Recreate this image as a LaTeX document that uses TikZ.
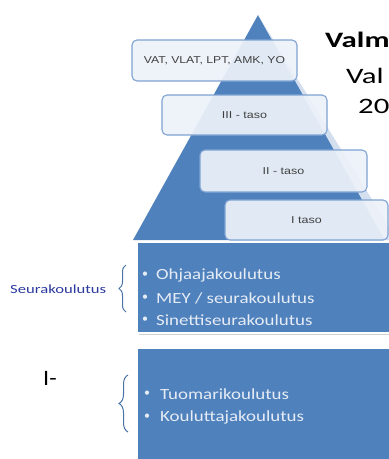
\documentclass[tikz,border=0pt]{standalone}
\usepackage{fontspec}
\setmainfont{Carlito}
\newfontfamily\boxfont{Liberation Sans}
\usetikzlibrary{decorations.pathreplacing}
\definecolor{pblue}{HTML}{4F81BD}
\definecolor{plight}{HTML}{D3DEEE}
\definecolor{boxfill}{HTML}{EDF2F9}
\definecolor{boxline}{HTML}{7FA3D3}
\definecolor{listtext}{HTML}{E6ECF5}
\definecolor{sidetext}{HTML}{2B3A9E}
\definecolor{bracec}{HTML}{4A74A8}
\newcommand{\wide}[2]{\scalebox{#1}[1]{#2}}
\tikzset{
  tbox/.style={draw=boxline, line width=1.1pt, fill=boxfill, fill opacity=0.93, text opacity=1,
    rounded corners=5pt, inner sep=0pt, font=\boxfont\fontsize{10}{12}\selectfont, text=black!75},
  bluerect/.style={fill=pblue, draw=white, line width=1.5pt},
  shadowrect/.style={fill=black!18},
  item/.style={anchor=west, inner sep=0pt, text=listtext, font=\fontsize{15.5}{18}\selectfont},
  bul/.style={inner sep=0pt, text=listtext, font=\fontsize{12}{14}\selectfont},
  bigtext/.style={anchor=base west, inner sep=0pt, text=black, font=\fontsize{22}{26}\selectfont},
  bracepath/.style={draw=bracec, line width=1pt, decorate, decoration={brace, amplitude=7pt}}
}
\begin{document}
\begin{tikzpicture}[x=1pt,y=-1pt]
\useasboundingbox (0,0) rectangle (389,459);
\clip (0,0) rectangle (389,459);
\fill[white] (0,0) rectangle (389,459);

% pyramid
\fill[pblue] (258,15) -- (133,240) -- (385,240) -- cycle;
\fill[plight] (258,15) -- (385,240) -- (397,240) -- cycle;

% level boxes
\node[tbox, minimum width=165pt, minimum height=41pt] (b1) at (214.5,60.5) {\wide{1.22}{VAT, VLAT, LPT, AMK, YO}};
\node[tbox, minimum width=165pt, minimum height=40pt] (b2) at (244.5,115) {\wide{1.25}{III - taso}};
\node[tbox, minimum width=167pt, minimum height=42pt] (b3) at (283.5,171) {\wide{1.25}{II - taso}};
\node[tbox, minimum width=163pt, minimum height=40pt] (b4) at (306.5,220) {\wide{1.25}{I taso}};

% right title text (cut off)
\node[bigtext, font=\bfseries\fontsize{22}{26}\selectfont] (t1) at (325,47) {\wide{1.4}{Valm}};
\node[bigtext] (t2) at (346,83) {\wide{1.4}{Val}};
\node[bigtext] (t3) at (358,113) {\wide{1.4}{20}};

% blue rectangles
\fill[shadowrect] (138.5,243.5) rectangle (393,335);
\draw[bluerect] (137,242) rectangle (393,333);
\fill[shadowrect] (138.5,349.5) rectangle (393,462);
\draw[bluerect] (137,348) rectangle (393,462);

% first list
\node[bul] (u1) at (145,275) {•};
\node[item] (i1) at (156,275) {\wide{1.22}{Ohjaajakoulutus}};
\node[bul] (u2) at (145,298) {•};
\node[item] (i2) at (156,298) {\wide{1.22}{MEY / seurakoulutus}};
\node[bul] (u3) at (145,320) {•};
\node[item] (i3) at (156,320) {\wide{1.22}{Sinettiseurakoulutus}};

% second list
\node[bul] (u4) at (147,394) {•};
\node[item] (i4) at (160,394) {\wide{1.22}{Tuomarikoulutus}};
\node[bul] (u5) at (147,417) {•};
\node[item] (i5) at (160,417) {\wide{1.22}{Kouluttajakoulutus}};

% side labels
\node[anchor=west, inner sep=0pt, text=sidetext, font=\fontsize{12.5}{14}\selectfont] (s1) at (10,289) {\wide{1.33}{Seurakoulutus}};
\node[anchor=base west, inner sep=0pt, text=black, font=\fontsize{22}{26}\selectfont] (s2) at (43,385) {\wide{1.1}{I-}};

% braces
\coordinate (br1a) at (126,312);
\coordinate (br1b) at (126,265);
\draw[bracepath] (br1a) -- (br1b);
\coordinate (br2a) at (128,432);
\coordinate (br2b) at (128,375);
\draw[bracepath, decoration={brace, amplitude=9pt}] (br2a) -- (br2b);
\end{tikzpicture}
\end{document}
